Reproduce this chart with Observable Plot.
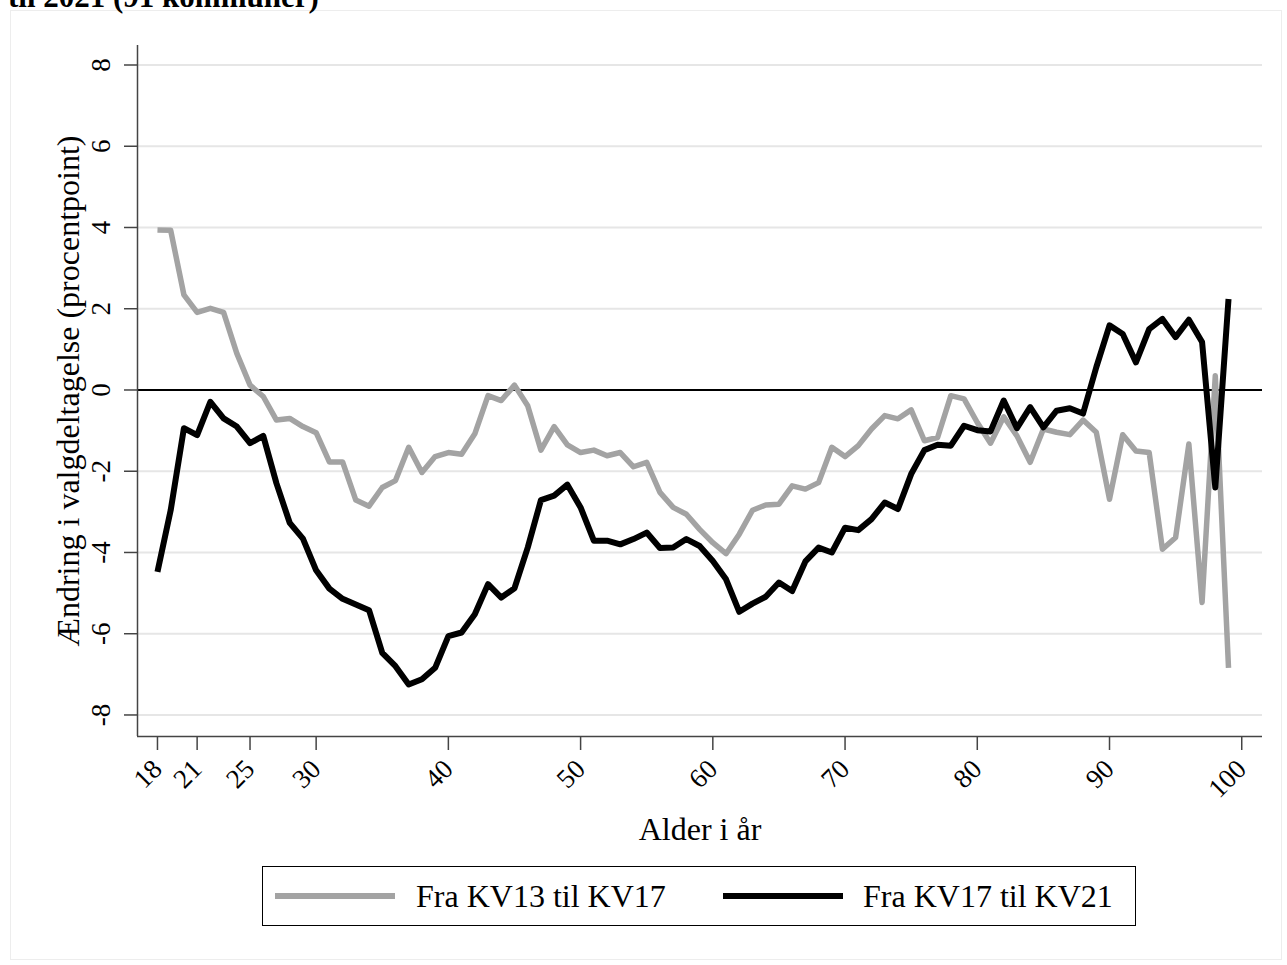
<!DOCTYPE html>
<html><head><meta charset="utf-8">
<script src="https://cdn.jsdelivr.net/npm/d3@7"></script>
<script src="https://cdn.jsdelivr.net/npm/@observablehq/plot@0.6"></script>
<style>
body{margin:0;background:#fff;font-family:"Liberation Serif","Times New Roman",serif;}
#wrap{position:relative;width:1287px;height:965px;overflow:hidden;background:#fff;}
#title{position:absolute;left:8px;top:-19px;font-size:31px;font-weight:bold;line-height:31px;white-space:nowrap;color:#000;}
#frame{position:absolute;left:10px;top:10px;width:1270px;height:948px;border:1px solid #ededed;}
#chart{position:absolute;left:0;top:0;}
#chart svg text{font-family:"Liberation Serif","Times New Roman",serif;}
#legend{position:absolute;left:262px;top:866px;width:872px;height:58px;border:1.5px solid #000;background:#fff;}
.sw{position:absolute;top:26px;width:120px;height:6px;}
.lt{position:absolute;top:0;line-height:58px;font-size:32px;white-space:nowrap;color:#000;}
</style></head>
<body>
<div id="wrap">
  <div id="frame"></div>
  <div id="title">til 2021 (91 kommuner)</div>
  <div id="chart"></div>
  <div id="legend"></div>
</div>
<script>
const ages = d3.range(18, 100);
const kv13_17 = [3.94,3.93,2.34,1.91,2.01,1.91,0.90,0.12,-0.16,-0.74,-0.70,-0.90,-1.05,-1.77,-1.77,-2.71,-2.86,-2.40,-2.23,-1.41,-2.03,-1.64,-1.54,-1.58,-1.08,-0.14,-0.26,0.12,-0.39,-1.48,-0.90,-1.35,-1.54,-1.48,-1.62,-1.54,-1.89,-1.78,-2.52,-2.89,-3.06,-3.43,-3.76,-4.03,-3.55,-2.96,-2.83,-2.81,-2.36,-2.44,-2.28,-1.41,-1.64,-1.37,-0.96,-0.63,-0.71,-0.49,-1.25,-1.17,-0.14,-0.22,-0.80,-1.31,-0.66,-1.13,-1.78,-0.96,-1.04,-1.10,-0.74,-1.04,-2.69,-1.10,-1.50,-1.54,-3.92,-3.63,-1.33,-5.23,0.35,-6.84];
const kv17_21 = [-4.48,-2.96,-0.94,-1.11,-0.29,-0.70,-0.90,-1.31,-1.13,-2.30,-3.27,-3.66,-4.44,-4.89,-5.14,-5.28,-5.42,-6.47,-6.80,-7.25,-7.12,-6.84,-6.06,-5.97,-5.52,-4.78,-5.11,-4.88,-3.88,-2.71,-2.60,-2.33,-2.89,-3.71,-3.71,-3.80,-3.67,-3.51,-3.89,-3.88,-3.67,-3.84,-4.21,-4.66,-5.46,-5.26,-5.09,-4.74,-4.95,-4.22,-3.88,-4.00,-3.39,-3.45,-3.18,-2.77,-2.93,-2.07,-1.48,-1.35,-1.37,-0.88,-0.99,-1.02,-0.26,-0.94,-0.42,-0.92,-0.51,-0.45,-0.58,0.56,1.59,1.38,0.68,1.50,1.75,1.30,1.73,1.18,-2.40,2.24];
const xTicks = [18,21,25,30,40,50,60,70,80,90,100];
const yTicks = [-8,-6,-4,-2,0,2,4,6,8];
const seriesNames = ["Fra KV13 til KV17","Fra KV17 til KV21"];
const seriesColors = ["#a3a3a3","#000000"];
const xTitle = "Alder i år";
const yTitle = "Ændring i valgdeltagelse (procentpoint)";

const grayData = ages.map((a,i)=>({age:a, value:kv13_17[i], series:seriesNames[0]}));
const blackData = ages.map((a,i)=>({age:a, value:kv17_21[i], series:seriesNames[1]}));

const xDom = [16.49, 101.57], yDom = [-8.53, 8.48];
const font = "Liberation Serif";

const chart = Plot.plot({
  width:1287, height:850,
  marginLeft:137, marginRight:25, marginTop:45, marginBottom:114,
  style:{fontFamily:font, background:"transparent", overflow:"visible"},
  x:{domain:xDom},
  y:{domain:yDom},
  color:{domain:seriesNames, range:seriesColors},
  marks:[
    Plot.ruleY(yTicks.filter(d=>d!==0), {y:d=>d, stroke:"#e6e6e6", strokeWidth:2}),
    Plot.ruleY([0], {y:d=>d, stroke:"#000", strokeWidth:2}),
    Plot.axisX({ticks:xTicks, tickSize:14, tickFormat:()=>"", label:null, stroke:"#444", strokeWidth:1.5}),
    Plot.axisY({ticks:yTicks, tickSize:13, tickFormat:()=>"", label:null, stroke:"#444", strokeWidth:1.5}),
    Plot.ruleX([xDom[0]], {x:d=>d, stroke:"#444", strokeWidth:1.5}),
    Plot.ruleY([yDom[0]], {y:d=>d, stroke:"#444", strokeWidth:1.5}),
    Plot.line(grayData, {x:"age", y:"value", stroke:"series", strokeWidth:5.5, strokeLinejoin:"round", strokeLinecap:"butt"}),
    Plot.line(blackData, {x:"age", y:"value", stroke:"series", strokeWidth:6, strokeLinejoin:"round", strokeLinecap:"butt"}),
    Plot.text(yTicks, {y:d=>d, text:d=>String(d), frameAnchor:"left", dx:-36, rotate:-90, fontSize:27, fontFamily:font, textAnchor:"middle", lineAnchor:"middle", fill:"#000"}),
    Plot.text(xTicks, {x:d=>d, text:d=>String(d), frameAnchor:"bottom", dy:28, rotate:-45, fontSize:27, fontFamily:font, textAnchor:"end", lineAnchor:"middle", fill:"#000"}),
    Plot.text([xTitle], {text:d=>d, frameAnchor:"bottom", dy:93, fontSize:32, fontFamily:font, textAnchor:"middle", lineAnchor:"middle", fill:"#000"}),
    Plot.text([yTitle], {text:d=>d, frameAnchor:"left", dx:-69, rotate:-90, fontSize:32, fontFamily:font, textAnchor:"middle", lineAnchor:"middle", fill:"#000"})
  ]
});
document.getElementById("chart").appendChild(chart);

const leg = document.getElementById("legend");
const swLeft = [12, 460], txtLeft = [153, 600];
seriesNames.forEach((n,i)=>{
  const s = document.createElement("div");
  s.className = "sw"; s.style.left = swLeft[i]+"px"; s.style.background = seriesColors[i];
  leg.appendChild(s);
  const t = document.createElement("div");
  t.className = "lt"; t.style.left = txtLeft[i]+"px"; t.textContent = n;
  leg.appendChild(t);
});
</script>
</body></html>
